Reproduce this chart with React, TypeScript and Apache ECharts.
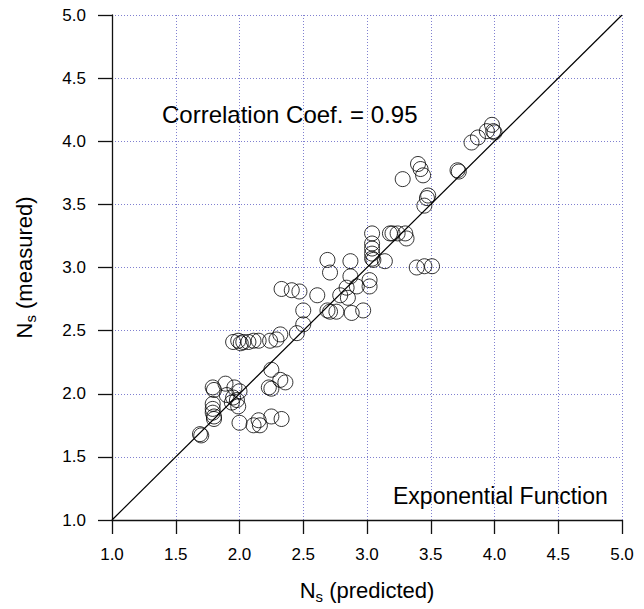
import React, { useEffect, useRef } from "react";
import * as echarts from "echarts";

const predicted: number[] = [
  1.69, 1.70, 1.79, 1.80, 1.79, 1.79, 1.79, 1.80, 1.80,
  1.89, 1.96, 1.90, 1.95, 1.98, 1.94, 1.99, 2.00, 2.00,
  2.11, 2.15, 2.16, 2.25, 2.33,
  2.25, 2.32, 2.36, 2.23, 2.25,
  1.95, 1.99, 2.01, 2.03, 2.07, 2.11, 2.15, 2.24, 2.29, 2.32,
  2.45, 2.50, 2.50,
  2.33, 2.41, 2.47, 2.61,
  2.69, 2.71, 2.76, 2.88, 2.97,
  2.79, 2.85, 2.84, 2.92, 2.87,
  2.69, 2.71, 2.87,
  3.02, 3.02,
  3.04, 3.04, 3.04, 3.04, 3.04, 3.05,
  3.14,
  3.18, 3.20, 3.24, 3.30, 3.31,
  3.39, 3.45, 3.51,
  3.28,
  3.40, 3.42, 3.44,
  3.45, 3.47, 3.48,
  3.71, 3.72,
  3.82, 3.87,
  3.94, 3.98, 3.99, 4.00,
];

const measured: number[] = [
  1.68, 1.67, 2.05, 2.03, 1.92, 1.88, 1.85, 1.82, 1.80,
  2.08, 2.05, 1.99, 1.97, 1.95, 1.93, 1.90, 2.02, 1.77,
  1.75, 1.79, 1.75, 1.82, 1.80,
  2.19, 2.11, 2.09, 2.05, 2.04,
  2.41, 2.42, 2.40, 2.41, 2.41, 2.42, 2.42, 2.42, 2.43, 2.47,
  2.48, 2.55, 2.66,
  2.83, 2.82, 2.81, 2.78,
  2.66, 2.65, 2.65, 2.64, 2.66,
  2.78, 2.76, 2.84, 2.85, 2.93,
  3.06, 2.96, 3.05,
  2.85, 2.90,
  3.27, 3.19, 3.15, 3.11, 3.07, 3.06,
  3.05,
  3.27, 3.27, 3.27, 3.27, 3.23,
  3.00, 3.01, 3.01,
  3.70,
  3.82, 3.78, 3.73,
  3.49, 3.55, 3.57,
  3.77, 3.76,
  3.99, 4.03,
  4.08, 4.13, 4.08, 4.07,
];

const tickLabels: string[] = ["1.0", "1.5", "2.0", "2.5", "3.0", "3.5", "4.0", "4.5", "5.0"];
const identityLine: number[][] = [[1, 1], [5, 5]];
const correlationText = "Correlation Coef. = 0.95";
const functionText = "Exponential Function";

const FONT = "'Liberation Sans', Arial, Helvetica, sans-serif";

export default function App() {
  const ref = useRef<HTMLDivElement>(null);
  useEffect(() => {
    document.body.style.margin = "0";
    if (!ref.current) return;
    const chart = echarts.init(ref.current, null, { renderer: "svg" });
    const points = predicted.map((x, i) => [x, measured[i]]);
    const axisCommon = {
      type: "value" as const,
      min: 1,
      max: 5,
      interval: 0.5,
      axisLine: { show: true, lineStyle: { color: "#111", width: 1.3 } },
      axisTick: { show: true, inside: false, length: 14, lineStyle: { color: "#111", width: 1.3 } },
      splitLine: { show: true, lineStyle: { color: "#8080d0", type: [1, 2] as any, width: 1 } },
      nameLocation: "middle" as const,
    };
    const fmt = (v: number) => tickLabels[Math.round((v - 1) / 0.5)] ?? v.toFixed(1);
    const nameRich = {
      n: { fontSize: 22, fontFamily: FONT, color: "#000" },
      s: { fontSize: 15, fontFamily: FONT, color: "#000", padding: [12, 0, 0, 0] },
    };
    chart.setOption({
      animation: false,
      backgroundColor: "#fff",
      grid: { left: 112, right: 22, top: 15, bottom: 85 },
      xAxis: {
        ...axisCommon,
        axisLabel: { color: "#000", fontSize: 17, fontFamily: FONT, margin: 26, formatter: fmt },
        name: "{n|N}{s|s}{n| (predicted)}",
        nameGap: 57,
        nameTextStyle: { rich: nameRich },
      },
      yAxis: {
        ...axisCommon,
        axisLabel: { color: "#000", fontSize: 17, fontFamily: FONT, margin: 26, formatter: fmt },
        name: "{n|N}{s|s}{n| (measured)}",
        nameGap: 74,
        nameRotate: 90,
        nameTextStyle: { rich: nameRich },
      },
      series: [
        {
          type: "line",
          data: identityLine,
          symbol: "none",
          lineStyle: { color: "#000", width: 1.2 },
          z: 1,
        },
        {
          type: "scatter",
          data: points,
          symbol: "circle",
          symbolSize: 15,
          itemStyle: { color: "rgba(0,0,0,0)", borderColor: "#000", borderWidth: 1 },
          z: 2,
        },
      ],
      graphic: [
        {
          type: "text",
          left: 162,
          top: 102,
          style: { text: correlationText, fontSize: 24, fontFamily: FONT, fill: "#000" },
        },
        {
          type: "text",
          left: 393,
          top: 484,
          style: { text: functionText, fontSize: 23, fontFamily: FONT, fill: "#000" },
        },
      ],
    });
    return () => chart.dispose();
  }, []);
  return <div ref={ref} style={{ width: 644, height: 609 }} />;
}
